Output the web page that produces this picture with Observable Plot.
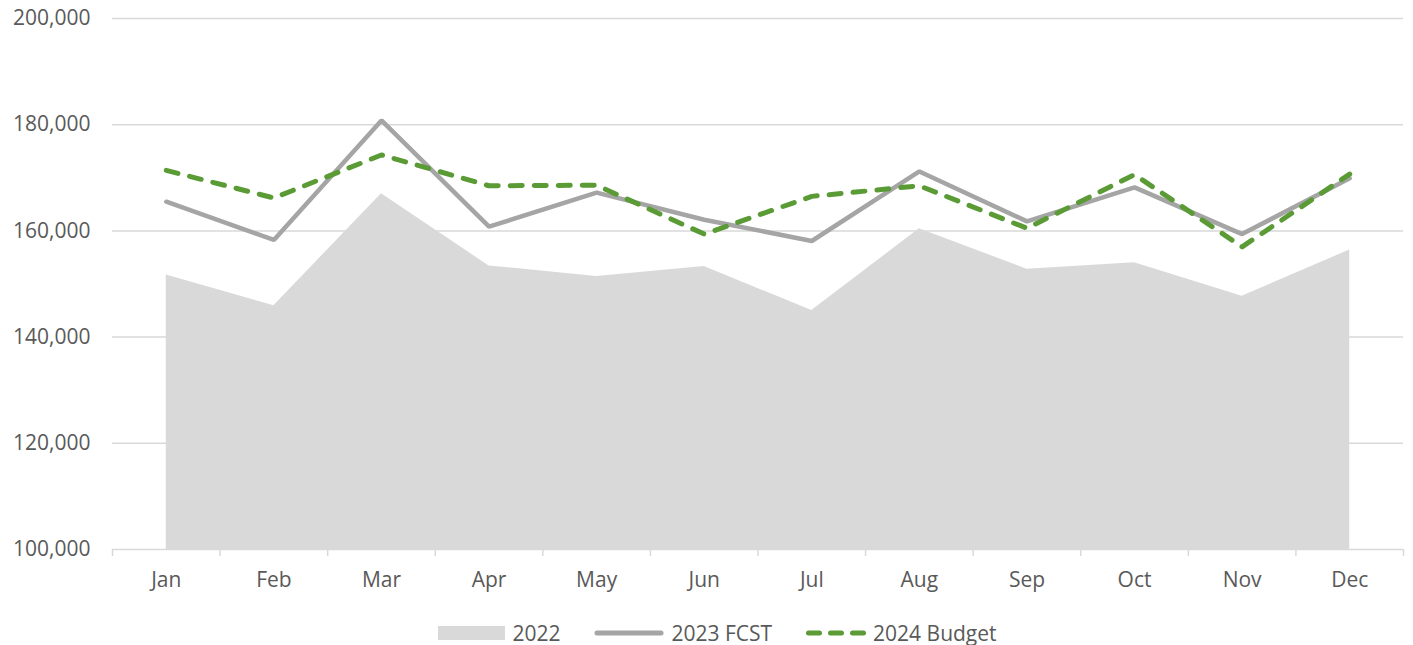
<!DOCTYPE html>
<html>
<head>
<meta charset="utf-8">
<script src="https://cdn.jsdelivr.net/npm/d3@7"></script>
<script src="https://cdn.jsdelivr.net/npm/@observablehq/plot@0.6"></script>
<style>
  html, body { margin: 0; padding: 0; background: #fff; }
  body { width: 1413px; height: 645px; overflow: hidden; font-family: "Open Sans", sans-serif; }
  #legend { display: flex; justify-content: center; align-items: center; height: 33px; margin-top: 4px; font-size: 21px; color: #595959; padding-left: 22px; }
  #legend .item { display: flex; align-items: center; margin-right: 34px; }
  #legend .item:last-child { margin-right: 0; }
  #legend svg { margin-right: 7px; }
</style>
</head>
<body>
<div id="chart"></div>
<div id="legend"></div>
<script>
const months = ["Jan","Feb","Mar","Apr","May","Jun","Jul","Aug","Sep","Oct","Nov","Dec"];
const v2022 = [151700,145900,167000,153400,151400,153300,145000,160400,152800,154000,147700,156400];
const v2023 = [165500,158300,180800,160800,167200,162100,158100,171200,161800,168200,159400,169900];
const v2024 = [171400,166200,174300,168500,168600,159400,166500,168500,160500,170600,157000,170700];
const yTicks = [100000,120000,140000,160000,180000,200000];
const seriesNames = ["2022","2023 FCST","2024 Budget"];

const data = months.map((m, i) => ({i, m, a: v2022[i], b: v2023[i], c: v2024[i]}));
const idx = months.map((m, i) => i);
const bounds = months.map((m, i) => i - 0.5).concat([months.length - 0.5]);

const textColor = "#595959";
const gridColor = "#d9d9d9";
const areaColor = "#d9d9d9";
const grayLine = "#a5a5a5";
const green = "#5b9b36";

const chart = Plot.plot({
  width: 1413,
  height: 612,
  marginTop: 18,
  marginBottom: 63,
  marginLeft: 112,
  marginRight: 10,
  style: {fontFamily: "'Open Sans', sans-serif", fontSize: "21px", color: textColor, background: "#fff"},
  x: {type: "linear", domain: [-0.5, months.length - 0.5], label: null},
  y: {domain: [yTicks[0], yTicks[yTicks.length - 1]], label: null},
  marks: [
    Plot.ruleY(yTicks, {stroke: gridColor, strokeWidth: 1.5}),
    Plot.areaY(data, {x: "i", y1: yTicks[0], y2: "a", fill: areaColor}),
    Plot.line(data, {x: "i", y: "b", stroke: grayLine, strokeWidth: 4.5, strokeLinejoin: "miter"}),
    Plot.line(data, {x: "i", y: "c", stroke: green, strokeWidth: 5, strokeDasharray: "12,12", strokeLinecap: "round", strokeLinejoin: "round"}),
    Plot.axisX({ticks: bounds, tickSize: 7, tickFormat: () => "", label: null, stroke: gridColor, strokeWidth: 1.5, strokeOpacity: 1}),
    Plot.axisX({ticks: idx, tickSize: 0, tickPadding: 23, tickFormat: i => months[i], label: null, fill: textColor, fontSize: 21}),
    Plot.axisY({ticks: yTicks, tickSize: 0, tickPadding: 22, tickFormat: d3.format(","), label: null, fill: textColor, fontSize: 21})
  ]
});
document.getElementById("chart").appendChild(chart);

const legend = document.getElementById("legend");
const swatches = [
  `<svg width="67" height="16"><rect x="0" y="1" width="67" height="14" fill="${areaColor}"/></svg>`,
  `<svg width="70" height="16"><line x1="3" y1="8" x2="67" y2="8" stroke="${grayLine}" stroke-width="5" stroke-linecap="round"/></svg>`,
  `<svg width="60" height="16"><line x1="2.5" y1="8" x2="57.5" y2="8" stroke="${green}" stroke-width="5" stroke-linecap="round" stroke-dasharray="11,11"/></svg>`
];
seriesNames.forEach((n, k) => {
  const d = document.createElement("div");
  d.className = "item";
  d.innerHTML = swatches[k] + `<span>${n}</span>`;
  legend.appendChild(d);
});
</script>
</body>
</html>
